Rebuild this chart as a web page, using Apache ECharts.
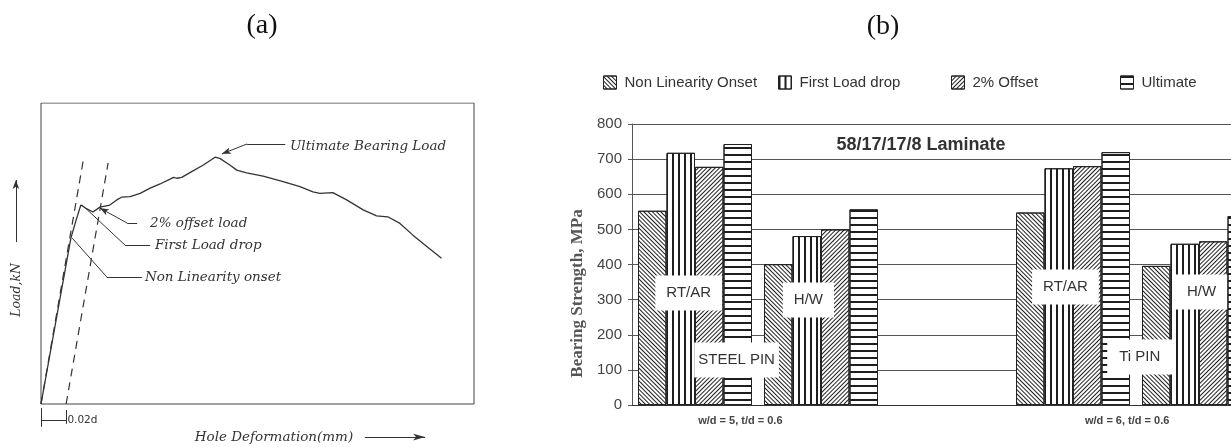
<!DOCTYPE html>
<html lang="en">
<head>
<meta charset="utf-8" />
<title>Bearing load curve and bearing strength</title>
<style>
  html, body { margin: 0; padding: 0; background: #fff; }
  #chart { width: 1231px; height: 447px; }
</style>
</head>
<body>
<div id="chart"></div>
<script src="https://cdn.jsdelivr.net/npm/echarts@6/dist/echarts.min.js"></script>
<script>
// ---------- panel (a): load vs hole deformation, relative units (0-100)
const loadCurve = [
  [0, 0], [6.9, 55.1], [7.9, 60.1], [9.2, 66.1], [10.6, 64.8], [12.0, 63.8], [13.6, 65.4],
  [15.9, 66.1], [17.5, 67.8], [18.6, 68.7], [20.6, 68.9], [22.9, 70.0], [25.2, 71.7],
  [27.5, 73.1], [29.8, 74.7], [30.6, 75.3], [31.3, 75.0], [32.5, 75.3], [34.8, 77.2],
  [37.5, 79.4], [40.2, 82.0], [41.3, 81.6], [43.6, 79.4], [45.2, 77.7], [47.5, 76.8],
  [51.3, 75.7], [55.9, 73.9], [59.8, 72.2], [62.8, 70.5], [64.4, 70.0], [67.4, 70.2],
  [70.6, 67.8], [74.4, 64.5], [77.5, 62.5], [80.1, 62.2], [82.9, 60.0], [85.9, 56.1],
  [89.1, 52.3], [92.5, 48.4]
];
const elasticLine = [[0, 0], [9.9, 82.1]];
const offsetLine = [[5.8, 0], [15.5, 80.1]];

// leaders: point on the curve, elbow, end of the horizontal run, where the text starts
const noteNames = ['Ultimate Bearing Load', '2% offset load', 'First Load drop', 'Non Linearity onset'];
const noteTips = [[41.8, 83.1], [13.6, 65.1], [9.5, 66.1], [7.2, 55.1]];
const noteElbows = [[47.6, 86.4], [19.9, 60.1], [19.4, 52.8], [15.2, 42.2]];
const noteEnds = [[56.4, 86.4], [22.2, 60.1], [25.2, 52.8], [23.3, 42.2]];
const noteTextAt = [[57.5, 85.4], [25.2, 60.1], [26.3, 52.8], [24.0, 41.9]];
const noteArrow = [true, true, false, false];

// ---------- panel (b): bearing strength, MPa
const groups = ['Steel RT/AR', 'Steel H/W', '', 'Ti RT/AR', 'Ti H/W'];
const seriesNames = ['Non Linearity Onset', 'First Load drop', '2% Offset', 'Ultimate'];
const nonLinearity = [553, 401, '-', 548, 396];
const firstDrop = [718, 481, '-', 674, 459];
const offset2 = [678, 500, '-', 680, 466];
const ultimate = [743, 557, '-', 720, 538];
const boxTexts = ['RT/AR', 'H/W', 'STEEL PIN', 'RT/AR', 'Ti PIN', 'H/W'];
const boxAt = [[-0.05, 319], [0.9, 299], [0.33, 128], [2.94, 336], [3.53, 137], [4.02, 322]];
const conditionTexts = ['w/d = 5, t/d = 0.6', 'w/d = 6, t/d = 0.6'];
const conditionAt = [[0.36, -46], [3.43, -46]];

const hatch = [
  { dashArrayX: [1, 0], dashArrayY: [1, 2], rotation: Math.PI / 4 },
  { dashArrayX: [2, 4], dashArrayY: [1, 0], rotation: 0 },
  { dashArrayX: [1, 0], dashArrayY: [1, 2], rotation: -Math.PI / 4 },
  { dashArrayX: [1, 0], dashArrayY: [2, 5], rotation: 0 }
];
const legendLeft = [603, 778, 951, 1120];

const ink = '#333';
const chart = echarts.init(document.getElementById('chart'));

const leaderLines = [];
noteNames.forEach((n, i) => {
  leaderLines.push([{ coord: noteElbows[i], symbol: 'none' }, { coord: noteEnds[i], symbol: 'none' }]);
  leaderLines.push([
    { coord: noteElbows[i], symbol: 'none' },
    { coord: noteTips[i], symbol: noteArrow[i] ? 'arrow' : 'none', symbolSize: [5, 9] }
  ]);
});
// 0.02d dimension under the axis and the two axis arrows
const dx = offsetLine[0][0];
leaderLines.push([{ coord: [0, -1.3], symbol: 'none' }, { coord: [0, -7.6], symbol: 'none' }]);
leaderLines.push([{ coord: [dx, -2], symbol: 'none' }, { coord: [dx, -6.6], symbol: 'none' }]);
leaderLines.push([{ coord: [0, -5.3], symbol: 'none' }, { coord: [dx, -5.3], symbol: 'none' }]);
leaderLines.push([{ coord: [-5.8, 53.8], symbol: 'none' }, { coord: [-5.8, 74.4], symbol: 'arrow', symbolSize: [5, 9] }]);
leaderLines.push([{ coord: [74.8, -11], symbol: 'none' }, { coord: [88.7, -11], symbol: 'arrow', symbolSize: [5, 12] }]);

const noteFont = { fontFamily: 'DejaVu Serif', fontStyle: 'italic', fontSize: 13.5, color: ink };
const notes = noteNames.map((n, i) => ({ name: n, value: noteTextAt[i] }));
notes.push({ name: '0.02d', value: [dx + 0.3, -5.3],
  label: { fontStyle: 'normal', fontFamily: 'DejaVu Sans', fontSize: 10.5 } });
notes.push({ name: 'Hole Deformation(mm)', value: [53.8, -11], label: { position: 'inside' } });
notes.push({ name: 'Load,kN', value: [-5.5, 37.9], label: { position: 'inside', rotate: 90, fontSize: 12.5 } });

// pin names sit in narrower boxes than the test-condition names
const boxes = boxTexts.map((t, i) => ({ name: t, value: boxAt[i],
  label: /PIN/.test(t) ? { padding: [10, t.length > 6 ? 4 : 12] } : {} }));
const conditions = conditionTexts.map((t, i) => ({ name: t, value: conditionAt[i] }));

const barValues = [nonLinearity, firstDrop, offset2, ultimate];
const bars = seriesNames.map((name, i) => ({
  name, type: 'bar', xAxisIndex: 1, yAxisIndex: 1,
  data: barValues[i], barWidth: 28.5, barGap: '0%', silent: true,
  itemStyle: {
    color: '#fff', borderColor: '#222', borderWidth: 1,
    decal: Object.assign({ symbol: 'rect', symbolSize: 1, symbolKeepAspect: false, color: '#1e1e1e' }, hatch[i])
  }
}));

chart.setOption({
  animation: false,
  graphic: [
    { type: 'text', x: 262, y: 26, style: { text: '(a)', fontFamily: 'Liberation Serif', fontSize: 28, fill: '#111', align: 'center', verticalAlign: 'middle' } },
    { type: 'text', x: 883, y: 27, style: { text: '(b)', fontFamily: 'Liberation Serif', fontSize: 28, fill: '#111', align: 'center', verticalAlign: 'middle' } },
    { type: 'text', x: 921, y: 145, z: 50, style: { text: '58/17/17/8 Laminate', fontFamily: 'Liberation Sans', fontWeight: 'bold', fontSize: 18, fill: ink, align: 'center', verticalAlign: 'middle' } }
  ],
  legend: seriesNames.map((name, i) => ({
    data: [name], left: legendLeft[i], top: 75, padding: 0, icon: 'rect',
    itemWidth: 13, itemHeight: 13, selectedMode: false,
    itemStyle: { borderWidth: 1 },
    textStyle: { fontFamily: 'Liberation Sans', fontSize: 15, color: ink, padding: [0, 0, 0, 3] }
  })),
  grid: [
    // axes run from -9..100 and -12..100 so the notes below / left of the frame stay on the scale
    { left: 2.03, top: 103, width: 471.97, height: 337.12, outerBoundsMode: 'none' },
    { left: 632, top: 124, width: 630, height: 281, outerBoundsMode: 'none' }
  ],
  xAxis: [
    { gridIndex: 0, type: 'value', min: -9, max: 100, show: false },
    { gridIndex: 1, type: 'category', data: groups,
      axisLine: { onZero: false, lineStyle: { color: ink } }, axisTick: { show: false }, axisLabel: { show: false } },
    { gridIndex: 1, type: 'value', min: -0.5, max: 4.5, show: false }
  ],
  yAxis: [
    { gridIndex: 0, type: 'value', min: -12, max: 100, show: false },
    { gridIndex: 1, type: 'value', min: 0, max: 800, interval: 100,
      axisLine: { show: true, onZero: false, lineStyle: { color: '#555' } },
      axisTick: { show: true, length: 4, lineStyle: { color: '#555' } },
      axisLabel: { margin: 10, fontFamily: 'Liberation Sans', fontSize: 15, color: '#444' },
      splitLine: { lineStyle: { color: '#555' } },
      name: 'Bearing Strength, MPa', nameLocation: 'middle', nameGap: 46,
      nameTextStyle: { fontFamily: 'Liberation Serif', fontWeight: 'bold', fontSize: 17, color: '#555', padding: [0, 58, 0, 0] }
    }
  ],
  series: [
    // plot frame of panel (a)
    { type: 'line', xAxisIndex: 0, yAxisIndex: 0, data: [[0, 0], [100, 0], [100, 100], [0, 100], [0, 0]],
      showSymbol: false, silent: true, lineStyle: { color: '#444', width: 1 } },
    { type: 'line', xAxisIndex: 0, yAxisIndex: 0, data: loadCurve, showSymbol: false, silent: true, clip: false,
      lineStyle: { color: ink, width: 1.3 },
      markLine: { silent: true, symbol: ['none', 'none'], label: { show: false }, animation: false,
        lineStyle: { color: ink, width: 1, type: 'solid' }, emphasis: { disabled: true }, data: leaderLines } },
    { type: 'line', xAxisIndex: 0, yAxisIndex: 0, data: elasticLine, showSymbol: false, silent: true,
      lineStyle: { color: ink, width: 1.2, type: [8, 6] } },
    { type: 'line', xAxisIndex: 0, yAxisIndex: 0, data: offsetLine, showSymbol: false, silent: true,
      lineStyle: { color: ink, width: 1.2, type: [8, 6] } },
    { type: 'scatter', xAxisIndex: 0, yAxisIndex: 0, data: notes, symbolSize: 0, silent: true, clip: false,
      itemStyle: { opacity: 1 },
      label: Object.assign({ show: true, position: 'right', distance: 0, formatter: p => p.name }, noteFont) },
    ...bars,
    { type: 'scatter', xAxisIndex: 2, yAxisIndex: 1, data: boxes, symbolSize: 0, silent: true, z: 10,
      itemStyle: { opacity: 1 },
      label: { show: true, position: 'inside', formatter: p => p.name, backgroundColor: '#fff',
        padding: [10, 11], fontFamily: 'Liberation Sans', fontSize: 15, color: ink } },
    { type: 'scatter', xAxisIndex: 2, yAxisIndex: 1, data: conditions, symbolSize: 0, silent: true, clip: false,
      itemStyle: { opacity: 1 },
      label: { show: true, position: 'inside', formatter: p => p.name,
        fontFamily: 'Liberation Sans', fontWeight: 'bold', fontSize: 11, color: '#444' } }
  ]
});
</script>
</body>
</html>
